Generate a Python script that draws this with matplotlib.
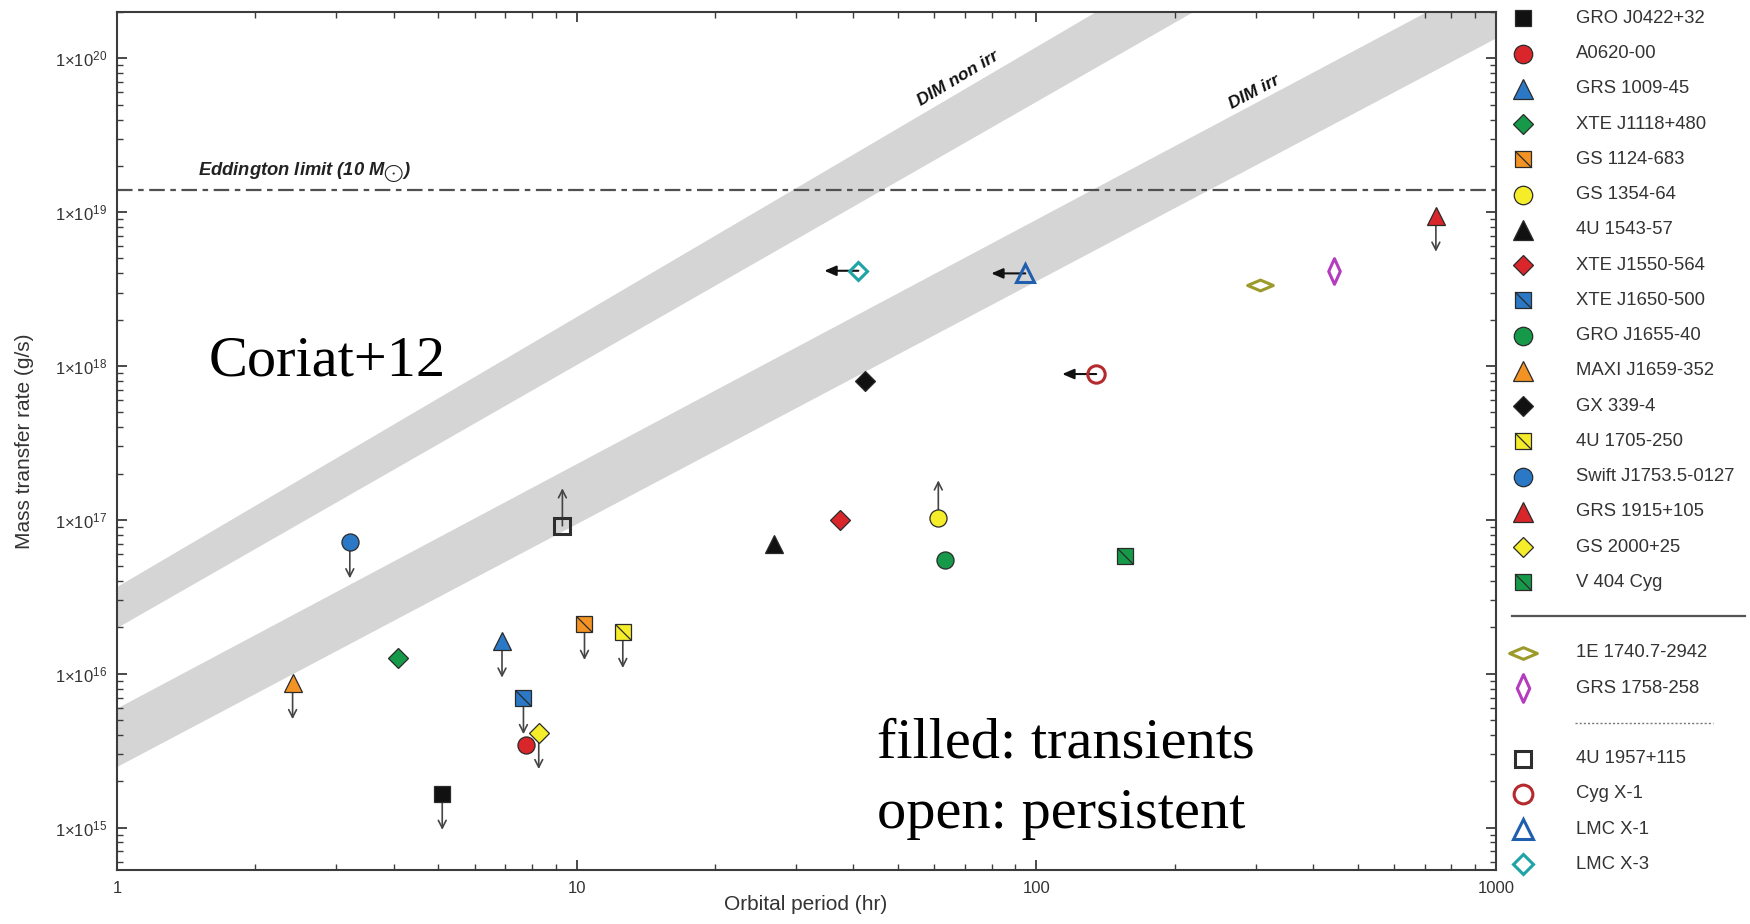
import numpy as np
import matplotlib
matplotlib.use("Agg")
import matplotlib.pyplot as plt
from matplotlib.path import Path
from matplotlib.ticker import LogLocator, FuncFormatter, NullFormatter

plt.rcParams["font.family"] = ["Liberation Sans", "DejaVu Sans"]
plt.rcParams["mathtext.fontset"] = "custom"
plt.rcParams["mathtext.rm"] = "Liberation Sans"
plt.rcParams["mathtext.it"] = "Liberation Sans:italic"
plt.rcParams["mathtext.bf"] = "Liberation Sans:bold"

# ---------------------------------------------------------------- data
names = ["GRO J0422+32", "A0620-00", "GRS 1009-45", "XTE J1118+480", "GS 1124-683",
         "GS 1354-64", "4U 1543-57", "XTE J1550-564", "XTE J1650-500", "GRO J1655-40",
         "MAXI J1659-352", "GX 339-4", "4U 1705-250", "Swift J1753.5-0127", "GRS 1915+105",
         "GS 2000+25", "V 404 Cyg",
         "1E 1740.7-2942", "GRS 1758-258",
         "4U 1957+115", "Cyg X-1", "LMC X-1", "LMC X-3"]

period_hr = [5.1, 7.76, 6.88, 4.08, 10.4,
             61.2, 26.9, 37.4, 7.66, 63.2,
             2.41, 42.4, 12.6, 3.21, 740.0,
             8.27, 156.0,
             306.0, 445.0,
             9.31, 135.0, 94.6, 41.0]

mdot_gs = [1.66e15, 3.43e15, 1.62e16, 1.26e16, 2.11e16,
           1.03e17, 6.95e16, 1.0e17, 6.95e15, 5.5e16,
           8.7e15, 8.0e17, 1.87e16, 7.16e16, 9.5e18,
           4.12e15, 5.84e16,
           3.36e18, 4.16e18,
           9.15e16, 8.87e17, 4.0e18, 4.16e18]

# limit direction drawn as an arrow from the point
limits = ["down", None, "down", None, "down",
          "up", None, None, "down", None,
          "down", None, "down", "down", "down",
          "down", None,
          None, None,
          "up", "left", "left", "left"]

shapes = ["s", "o", "^", "D", "sd",
          "o", "^", "D", "sd", "o",
          "^", "D", "sd", "o", "^",
          "D", "sd",
          "wide", "tall",
          "s", "o", "^", "D"]

colors = ["#111111", "#d9262b", "#2b78c6", "#17994a", "#f29324",
          "#f5ec2a", "#111111", "#d9262b", "#2b78c6", "#17994a",
          "#f29324", "#111111", "#f5ec2a", "#2b78c6", "#d9262b",
          "#f5ec2a", "#17994a",
          "#9c9a2a", "#b43cbe",
          "#2e2e2e", "#b52a2c", "#1f5fae", "#1ea3a6"]

persistent = [False] * 17 + [True] * 6

# legend row of each source (rows 17 and 20 hold the separators)
legend_row = list(range(17)) + [18, 19, 21, 22, 23, 24]

# disc-instability critical rates: edges at P = 1 hr and P = 1000 hr
band_period = [1.0, 1000.0]
dim_nonirr_lo = [2.0e16, 2.7e21]
dim_nonirr_hi = [3.7e16, 6.8e21]
dim_irr_lo = [2.5e15, 1.36e20]
dim_irr_hi = [6.0e15, 3.5e20]

eddington_rate = 1.39e19

# ---------------------------------------------------------------- styles
DIAG = Path([(-1, 1), (1, -1)], [Path.MOVETO, Path.LINETO])
WIDE = Path([(-1, 0), (0, 0.42), (1, 0), (0, -0.42), (-1, 0)],
            [Path.MOVETO, Path.LINETO, Path.LINETO, Path.LINETO, Path.CLOSEPOLY])
TALL = Path([(0, 1), (0.45, 0), (0, -1), (-0.45, 0), (0, 1)],
            [Path.MOVETO, Path.LINETO, Path.LINETO, Path.LINETO, Path.CLOSEPOLY])

marker_of = {"s": "s", "sd": "s", "o": "o", "^": "^", "D": "D", "wide": WIDE, "tall": TALL}
size_filled = {"s": 11.2, "sd": 11.2, "o": 12.3, "^": 12.8, "D": 9.8}
size_open = {"s": 11.0, "o": 12.5, "^": 13.0, "D": 9.2, "wide": 18.5, "tall": 18.5}
EDGE = "#2a2a2a"


def draw_source(ax, x, y, i, scale=1.0, z=4):
    shp = shapes[i]
    col = colors[i]
    m = marker_of[shp]
    if persistent[i]:
        ax.plot([x], [y], ls="none", marker=m, ms=size_open[shp] * scale,
                mfc="none", mec=col, mew=2.2, zorder=z, clip_on=False)
    else:
        ax.plot([x], [y], ls="none", marker=m, ms=size_filled[shp] * scale,
                mfc=col, mec=EDGE, mew=0.9, zorder=z, clip_on=False)
        if shp == "sd":
            ax.plot([x], [y], ls="none", marker=DIAG, ms=size_filled[shp] * scale,
                    mfc="none", mec=EDGE, mew=0.9, zorder=z + 0.1, clip_on=False)


def limit_arrow(ax, x, y, direction):
    if direction == "left":
        props = dict(arrowstyle="<|-,head_length=0.7,head_width=0.3", color="#111111",
                     lw=1.5, shrinkA=0, shrinkB=0)
        offset = (-24.5, 0)
    else:
        props = dict(arrowstyle="<-,head_length=0.55,head_width=0.28", color="#444444",
                     lw=1.2, shrinkA=0, shrinkB=0)
        offset = (0, -26) if direction == "down" else (0, 27)
    ax.annotate("", xy=(x, y), xytext=offset, textcoords="offset points",
                arrowprops=props, zorder=3)


# ---------------------------------------------------------------- figure
fig = plt.figure(figsize=(17.5, 9.24), dpi=100)
ax = fig.add_axes([117 / 1750, 54 / 924, 1379 / 1750, 858 / 924])
ax.set_xscale("log")
ax.set_yscale("log")
ax.set_xlim(1, 1000)
ax.set_ylim(5.3e14, 2.0e20)

band_col = "#d5d5d5"
ax.fill_between(band_period, dim_nonirr_lo, dim_nonirr_hi, color=band_col, lw=0, zorder=1)
ax.fill_between(band_period, dim_irr_lo, dim_irr_hi, color=band_col, lw=0, zorder=1)
ax.axhline(eddington_rate, color="#505050", lw=1.6, ls=(0, (7, 2.5, 2.5, 2.5)), zorder=2)

for i in range(len(names)):
    if limits[i]:
        limit_arrow(ax, period_hr[i], mdot_gs[i], limits[i])
    draw_source(ax, period_hr[i], mdot_gs[i], i)

# annotations inside the frame
ax.text(0.0587, 0.812, "Eddington limit (10 M$_{\\bigodot}$)", transform=ax.transAxes,
        fontsize=13.2, fontweight="bold", fontstyle="italic", color="#222222",
        va="baseline", ha="left")
ax.text(0.610, 0.923, "DIM non irr", transform=ax.transAxes, fontsize=12.5,
        fontweight="bold", fontstyle="italic", color="#111111",
        rotation=31, ha="center", va="center")
ax.text(0.825, 0.907, "DIM irr", transform=ax.transAxes, fontsize=12.5,
        fontweight="bold", fontstyle="italic", color="#111111",
        rotation=28, ha="center", va="center")

serif = ["Liberation Serif", "DejaVu Serif"]
fig.text(209 / 1750, 1 - 376 / 924, "Coriat+12", family=serif, fontsize=42,
         color="black", ha="left", va="baseline")
fig.text(877 / 1750, 1 - 758 / 924, "filled: transients", family=serif, fontsize=42,
         color="black", ha="left", va="baseline")
fig.text(877 / 1750, 1 - 828 / 924, "open: persistent", family=serif, fontsize=42,
         color="black", ha="left", va="baseline")

# axes styling
for sp in ax.spines.values():
    sp.set_color("#3c3c3c")
    sp.set_linewidth(1.5)
ax.tick_params(which="both", direction="in", top=True, right=True, colors="#3c3c3c",
               labelcolor="#333333", labelsize=12)
ax.tick_params(which="major", length=7, width=1.3)
ax.tick_params(which="minor", length=4, width=1.0)
ax.tick_params(axis="y", pad=7)
ax.tick_params(axis="x", pad=8)
ax.xaxis.set_major_locator(LogLocator(base=10, numticks=10))
ax.xaxis.set_minor_locator(LogLocator(base=10, subs=np.arange(2, 10), numticks=20))
ax.xaxis.set_major_formatter(FuncFormatter(lambda v, p: f"{v:g}"))
ax.xaxis.set_minor_formatter(NullFormatter())
ax.yaxis.set_major_locator(LogLocator(base=10, numticks=12))
ax.yaxis.set_minor_locator(LogLocator(base=10, subs=np.arange(2, 10), numticks=20))
ax.yaxis.set_major_formatter(
    FuncFormatter(lambda v, p: "1×10$^{\\mathregular{%d}}$" % round(np.log10(v))))
ax.yaxis.set_minor_formatter(NullFormatter())

fig.text(806 / 1750, 1 - 905 / 924, "Orbital period (hr)", fontsize=15,
         color="#333333", ha="center", va="center")
fig.text(25 / 1750, 1 - 441 / 924, "Mass transfer rate (g/s)", fontsize=15,
         color="#333333", ha="center", va="center", rotation=90)

# ---------------------------------------------------------------- legend
lg = fig.add_axes([1500 / 1750, 0, 250 / 1750, 1])
lg.set_xlim(1500, 1750)
lg.set_ylim(924, 0)
lg.axis("off")
row_y = lambda r: 18.3 + 35.25 * r
for i in range(len(names)):
    y = row_y(legend_row[i])
    draw_source(lg, 1523, y, i, scale=1.08)
    lg.text(1576, y, names[i], fontsize=13.3, color="#333333", ha="left", va="center")
lg.plot([1512, 1745], [row_y(16.97)] * 2, color="#555555", lw=1.6)
lg.plot([1575, 1713], [row_y(20)] * 2, color="#777777", lw=1.0, ls=(0, (1.5, 1.5)))

fig.savefig("out.png", dpi=100)
